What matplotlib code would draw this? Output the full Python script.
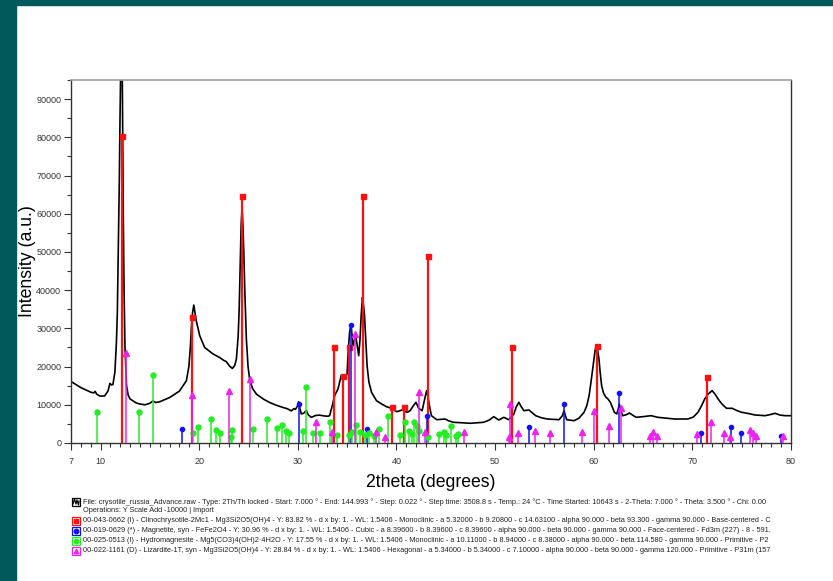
import matplotlib
matplotlib.use("Agg")
import matplotlib.pyplot as plt
from matplotlib.patches import Rectangle
from matplotlib.lines import Line2D
from matplotlib.ticker import MultipleLocator

plt.rcParams['font.family'] = ['Liberation Sans', 'DejaVu Sans']

two_theta = [7.00, 7.50, 8.00, 8.50, 9.00, 9.30, 9.45, 9.60, 9.90, 10.40,
             10.75, 10.95, 11.10, 11.25, 11.45, 11.60, 11.70, 11.80, 11.90, 11.97,
             12.05, 12.12, 12.20, 12.30, 12.38, 12.47, 12.63, 12.80, 13.00, 13.60,
             14.00, 14.50, 15.00, 15.30, 15.60, 16.00, 17.00, 18.00, 18.70, 18.95,
             19.10, 19.20, 19.32, 19.45, 19.55, 19.70, 20.05, 20.55, 21.40, 22.05,
             22.50, 22.75, 23.05, 23.36, 23.60, 23.77, 23.95, 24.05, 24.15, 24.25,
             24.34, 24.43, 24.52, 24.62, 24.78, 24.95, 25.11, 25.40, 25.80, 26.50,
             27.14, 27.80, 28.49, 28.90, 29.34, 29.60, 29.75, 29.95, 30.08, 30.20,
             30.35, 30.60, 30.85, 31.05, 31.36, 31.80, 32.20, 32.60, 33.04, 33.22,
             33.49, 33.73, 34.07, 34.41, 34.60, 34.75, 34.99, 35.12, 35.25, 35.39,
             35.50, 35.59, 35.75, 35.87, 36.05, 36.17, 36.30, 36.42, 36.55, 36.66,
             36.76, 36.90, 37.02, 37.20, 37.47, 37.97, 38.49, 38.99, 39.50, 40.02,
             40.30, 40.63, 40.90, 41.11, 41.40, 41.71, 41.98, 42.25, 42.60, 42.86,
             43.06, 43.20, 43.28, 43.54, 44.09, 44.50, 44.93, 45.30, 45.79, 46.60,
             47.49, 48.20, 48.84, 49.40, 49.86, 50.37, 50.88, 51.38, 51.90, 52.15,
             52.41, 52.65, 52.92, 53.43, 54.11, 54.70, 55.29, 55.90, 56.48, 56.82,
             56.99, 57.12, 57.26, 58.01, 58.50, 59.02, 59.30, 59.53, 59.75, 59.98,
             60.15, 60.25, 60.38, 60.53, 60.65, 60.80, 61.00, 61.24, 61.45, 61.68,
             61.90, 62.09, 62.33, 62.50, 62.59, 62.75, 62.93, 63.30, 63.61, 64.29,
             65.00, 65.82, 66.49, 67.30, 68.20, 69.55, 70.10, 70.57, 70.90, 71.25,
             71.60, 72.00, 72.30, 72.61, 73.00, 73.46, 74.04, 74.50, 74.99, 75.70,
             76.35, 77.37, 78.00, 78.38, 78.90, 79.40, 80.00]
counts = [16100, 15300, 14500, 13900, 13300, 13100, 13500, 12800, 12300, 12300,
          13600, 15600, 15200, 15300, 18500, 26000, 34200, 52000, 69000, 85000,
          100000, 105000, 96000, 60400, 40000, 25500, 15000, 12500, 11500, 10500,
          10200, 10000, 10400, 11000, 10600, 10800, 11900, 13600, 16300, 20000,
          25000, 30000, 34000, 36100, 34500, 32000, 28100, 25000, 23300, 22400,
          21600, 21300, 20200, 19500, 20300, 22000, 28000, 35000, 46000, 57000,
          61300, 57000, 50000, 40000, 27200, 20000, 16700, 14300, 12800, 11500,
          10600, 9900, 9300, 9000, 8400, 9000, 8800, 9600, 10800, 9200,
          7600, 7800, 8500, 7400, 6700, 7200, 7300, 7100, 7000, 7150,
          9770, 12380, 14140, 17800, 17400, 17200, 18060, 24600, 29000, 31150,
          28000, 25470, 27000, 27920, 25000, 22850, 27000, 33330, 38140, 36000,
          33330, 26000, 20240, 16000, 13270, 11070, 10210, 9500, 9080, 8200,
          8400, 8720, 8200, 8040, 8500, 9770, 10650, 9080, 8460, 11520,
          13700, 12000, 10650, 7150, 6100, 6200, 6280, 5800, 5420, 5300,
          5160, 5300, 5420, 6000, 6890, 6020, 6720, 6100, 7590, 9500,
          10650, 9500, 8460, 8640, 7150, 6600, 6280, 6200, 6100, 7150,
          8460, 7200, 6100, 5840, 6500, 8040, 9800, 12380, 16500, 21130,
          24500, 25320, 24500, 22000, 18500, 15000, 13000, 11960, 11500, 10650,
          9300, 8040, 7590, 9000, 10210, 8600, 7150, 7400, 7850, 6720,
          6900, 7150, 6720, 6500, 6280, 6280, 6800, 8040, 9600, 11520,
          12800, 13700, 12800, 11520, 10200, 9080, 9080, 8500, 8040, 7700,
          7330, 7150, 7500, 7770, 7300, 7150, 7150]

# reference patterns (stick positions / heights)
chryso_pos = [12.13, 19.31, 24.34, 33.66, 34.58, 35.22, 36.59, 39.57, 40.80,
              43.15, 51.76, 60.32, 71.48]
chryso_int = [80400, 33100, 64700, 25050, 17600, 25050, 64700, 9350, 9350,
              48900, 25050, 25300, 17200]

magnet_pos = [18.30, 30.08, 35.43, 37.05, 43.05, 53.42, 56.97, 62.57, 70.90,
              73.95, 74.95, 78.95]
magnet_int = [3660, 10200, 30900, 3660, 7150, 4300, 10150, 13000, 2540,
              4300, 2540, 1900]

hydro_pos = [9.68, 13.85, 15.33, 19.38, 19.92, 21.24, 21.75, 22.15, 23.19,
             23.36, 25.42, 26.87, 27.85, 28.36, 28.83, 29.13, 30.55, 30.81,
             31.53, 32.27, 33.24, 33.99, 35.15, 35.48, 35.93, 36.28, 36.79,
             37.22, 37.70, 38.25, 39.15, 40.35, 40.84, 41.30, 41.54, 41.81,
             42.05, 42.29, 43.18, 44.36, 44.77, 45.04, 45.52, 46.02, 46.19]
hydro_int = [8040, 8040, 17880, 2540, 4110, 6280, 3400, 2620, 1490,
             3480, 3660, 6360, 4010, 4710, 3220, 2540, 3220, 14580,
             2540, 2540, 5500, 2170, 2170, 2800, 4710, 2960, 2170,
             2540, 1750, 3660, 7150, 2090, 5500, 3220, 2360, 5420,
             4530, 3220, 1490, 2360, 2800, 2170, 4530, 1910, 2360]

lizard_pos = [12.57, 19.24, 22.99, 25.11, 31.83, 33.46, 35.77, 37.94, 38.83,
              42.32, 42.89, 46.87, 51.45, 51.52, 52.33, 54.00, 55.52, 58.85,
              60.00, 61.52, 62.80, 65.75, 66.02, 66.42, 70.50, 71.92, 73.22,
              73.85, 75.82, 76.15, 76.45, 79.15]
lizard_int = [23560, 12570, 13700, 16760, 5420, 2800, 28540, 2960, 1650,
              13430, 2800, 2800, 1490, 10210, 2540, 3220, 2540, 2800,
              8460, 4530, 9080, 1910, 2960, 1910, 2360, 5580, 2540,
              1650, 3480, 2700, 1750, 1750]

legend_lines = [
    "File: crysotile_russia_Advance.raw - Type: 2Th/Th locked - Start: 7.000 \u00b0 - End: 144.993 \u00b0 - "
    "Step: 0.022 \u00b0 - Step time: 3508.8 s - Temp.: 24 \u00b0C - Time Started: 10643 s - "
    "2-Theta: 7.000 \u00b0 - Theta: 3.500 \u00b0 - Chi: 0.00",
    "Operations: Y Scale Add -10000 | Import",
    "00-043-0662 (I) - Clinochrysotile-2Mc1 - Mg3Si2O5(OH)4 - Y: 83.82 % - d x by: 1. - WL: 1.5406 - "
    "Monoclinic - a 5.32000 - b 9.20800 - c 14.63100 - alpha 90.000 - beta 93.300 - gamma 90.000 - Base-centered - C",
    "00-019-0629 (*) - Magnetite, syn - FeFe2O4 - Y: 30.96 % - d x by: 1. - WL: 1.5406 - Cubic - "
    "a 8.39600 - b 8.39600 - c 8.39600 - alpha 90.000 - beta 90.000 - gamma 90.000 - Face-centered - Fd3m (227) - 8 - 591.",
    "00-025-0513 (I) - Hydromagnesite - Mg5(CO3)4(OH)2\u00b74H2O - Y: 17.55 % - d x by: 1. - WL: 1.5406 - "
    "Monoclinic - a 10.11000 - b 8.94000 - c 8.38000 - alpha 90.000 - beta 114.580 - gamma 90.000 - Primitive - P2",
    "00-022-1161 (D) - Lizardite-1T, syn - Mg3Si2O5(OH)4 - Y: 28.84 % - d x by: 1. - WL: 1.5406 - "
    "Hexagonal - a 5.34000 - b 5.34000 - c 7.10000 - alpha 90.000 - beta 90.000 - gamma 120.000 - Primitive - P31m (157",
]

W, H = 833, 581
fig = plt.figure(figsize=(W / 100, H / 100), dpi=100)
fig.patch.set_facecolor('white')

# teal frame (left and top)
teal = '#02595b'
fig.add_artist(Rectangle((0, 0), 16 / W, 1, transform=fig.transFigure, color=teal, zorder=0))
fig.add_artist(Rectangle((0, 1 - 5 / H), 1, 5 / H, transform=fig.transFigure, color=teal, zorder=0))

ax = fig.add_axes([71 / W, 1 - 443 / H, 720 / W, 363 / H])
ax.plot(two_theta, counts, color='black', lw=1.2, zorder=2)

# sticks
phases = [
    (chryso_pos, chryso_int, '#ff1010', 's', 3.6, 1.6),
    (magnet_pos, magnet_int, '#1010ff', 'o', 3.0, 1.1),
    (hydro_pos, hydro_int, '#22ee22', 'o', 3.6, 1.1),
    (lizard_pos, lizard_int, '#ee22ee', '^', 3.8, 1.1),
]
for k, (pos, inten, col, mk, ms, lw) in enumerate(phases):
    ax.vlines(pos, 0, inten, colors=col, lw=lw, zorder=3 + k)
    ax.plot(pos, inten, ls='none', marker=mk, ms=ms, color=col, mec=col, zorder=3 + k)

ax.set_xlim(7, 80)
ax.set_ylim(0, 95000)
ax.set_xticks([7, 10, 20, 30, 40, 50, 60, 70, 80])
ax.xaxis.set_minor_locator(MultipleLocator(1))
ax.yaxis.set_major_locator(MultipleLocator(10000))
ax.yaxis.set_minor_locator(MultipleLocator(5000))
ax.ticklabel_format(axis='y', style='plain', useOffset=False)
ax.tick_params(which='major', length=5, width=0.8, color='#333333',
               labelsize=6.5, labelcolor='#333333')
ax.tick_params(which='minor', length=3, width=0.8, color='#333333')
ax.tick_params(axis='x', pad=5)
ax.tick_params(axis='y', pad=2)
for side in ['left', 'bottom', 'right']:
    ax.spines[side].set_color('#333333')
    ax.spines[side].set_linewidth(1.0)
ax.spines['top'].set_color('#a0a0a0')
ax.spines['top'].set_linewidth(1.2)

ax.set_xlabel('2theta (degrees)', fontsize=12.7, color='black')
ax.set_ylabel('Intensity (a.u.)', fontsize=12.7, color='black')
ax.xaxis.set_label_coords(0.5, -0.086)
ax.yaxis.set_label_coords(-0.048, 0.5)

# legend text block under the chart
row_y = [502, 511, 521, 531, 541, 551]
texts = []
for ty, s in zip(row_y, legend_lines):
    texts.append(fig.text(83 / W, 1 - ty / H, s, fontsize=5, color='#222222',
                          ha='left', va='center'))
fig.canvas.draw()
renderer = fig.canvas.get_renderer()
w0 = texts[0].get_window_extent(renderer).width
fs = 5 * 696 / w0
for t in texts:
    t.set_fontsize(fs)

# legend icons
icon_cols = ['black', '#ff1010', '#1010ff', '#22ee22', '#ee22ee']
icon_marks = [None, 's', 'o', 'o', '^']
icon_rows = [502, 521, 531, 541, 551]
for ty, col, mk in zip(icon_rows, icon_cols, icon_marks):
    fig.add_artist(Rectangle((72 / W, 1 - (ty + 4) / H), 8 / W, 8 / H,
                             transform=fig.transFigure, fill=False, ec=col, lw=0.9))
    if mk is None:
        xs = [73, 74.5, 76, 77, 78.5, 79]
        ys = [ty + 2, ty - 3, ty + 2, ty - 2, ty + 3, ty - 1]
        fig.add_artist(Line2D([x / W for x in xs], [1 - y / H for y in ys],
                              transform=fig.transFigure, color='black', lw=0.9))
    else:
        fig.add_artist(Line2D([76 / W], [1 - ty / H], transform=fig.transFigure,
                              ls='none', marker=mk, ms=3.2, color=col))

fig.savefig('out.png', dpi=100)
